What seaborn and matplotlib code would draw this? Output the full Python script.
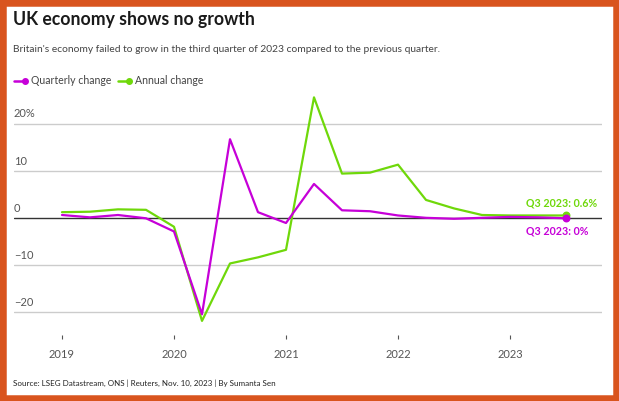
import numpy as np
import pandas as pd
import matplotlib
matplotlib.use("Agg")
import matplotlib.pyplot as plt
from matplotlib.lines import Line2D
from matplotlib.patches import Rectangle
import seaborn as sns

# quarterly GDP change, 2019 Q1 .. 2023 Q3
quarters = ["2019Q1", "2019Q2", "2019Q3", "2019Q4",
            "2020Q1", "2020Q2", "2020Q3", "2020Q4",
            "2021Q1", "2021Q2", "2021Q3", "2021Q4",
            "2022Q1", "2022Q2", "2022Q3", "2022Q4",
            "2023Q1", "2023Q2", "2023Q3"]
quarterly_change = [0.7, 0.2, 0.7, 0.0, -2.8, -20.4, 16.8, 1.3, -1.0, 7.3,
                    1.7, 1.5, 0.6, 0.1, -0.1, 0.1, 0.3, 0.2, 0.0]
annual_change = [1.3, 1.4, 1.9, 1.8, -1.8, -21.8, -9.6, -8.3, -6.7, 25.7,
                 9.5, 9.7, 11.4, 3.9, 2.1, 0.7, 0.6, 0.6, 0.6]
series_names = ["Quarterly change", "Annual change"]
year_labels = ["2019", "2020", "2021", "2022", "2023"]
y_ticks = [-20, -10, 0, 10, 20]
y_tick_labels = ["\u221220", "\u221210", "0", "10", "20%"]

PURPLE = "#c600d8"
GREEN = "#6fd80a"
ORANGE = "#d9541e"
GREY = "#555555"

df = pd.DataFrame({
    "q": list(range(len(quarters))) * 2,
    "value": quarterly_change + annual_change,
    "series": [series_names[0]] * len(quarters) + [series_names[1]] * len(quarters),
})

sns.set_style("white")
plt.rcParams["font.family"] = ["Lato", "DejaVu Sans"]

W, H = 619, 401
fig = plt.figure(figsize=(W / 100, H / 100), dpi=100)

def px(x0, y0, x1, y1):
    return [x0 / W, 1 - y1 / H, (x1 - x0) / W, (y1 - y0) / H]

ax = fig.add_axes(px(14, 95, 602, 335))

# annual first so the quarterly line sits on top
sns.lineplot(data=df, x="q", y="value", hue="series",
             palette={series_names[0]: PURPLE, series_names[1]: GREEN},
             hue_order=[series_names[1], series_names[0]],
             linewidth=1.6, legend=False, ax=ax, zorder=3)

# end points
last = len(quarters) - 1
ax.scatter([last], [annual_change[-1]], s=22, color=GREEN, zorder=4)
ax.scatter([last], [quarterly_change[-1]], s=22, color=PURPLE, zorder=5)

ax.set_xlim(-48 / 28, 540 / 28)
ax.set_ylim(-24.8, 26.2)

for t in y_ticks:
    if t == 0:
        ax.axhline(0, color="#333333", lw=1.0, zorder=2)
    else:
        ax.axhline(t, color="#cccccc", lw=1.0, zorder=1)
for t, lab in zip(y_ticks, y_tick_labels):
    ax.text(-48 / 28, t + 1.0, lab, fontsize=8, color=GREY,
            ha="left", va="bottom")

ax.set_yticks([])
ax.set_xticks([4 * i for i in range(len(year_labels))])
ax.set_xticklabels(year_labels, fontsize=8, color=GREY)
ax.tick_params(axis="x", direction="out", length=3, width=0.8,
               color="#555555", pad=7, bottom=True)
ax.set_xlabel("")
ax.set_ylabel("")
for s in ax.spines.values():
    s.set_visible(False)

ax.text(last + 1.1, annual_change[-1] + 1.4, "Q3 2023: 0.6%", color=GREEN,
        fontsize=7.7, fontweight="bold", ha="right", va="bottom")
ax.text(last + 0.8, quarterly_change[-1] - 1.5, "Q3 2023: 0%", color=PURPLE,
        fontsize=7.7, fontweight="bold", ha="right", va="top")

# titles
fig.text(13 / W, 1 - 19 / H, "UK economy shows no growth", fontsize=12.7,
         fontweight="bold", color="#1a1a1a", ha="left", va="center")
fig.text(13 / W, 1 - 49 / H,
         "Britain's economy failed to grow in the third quarter of 2023 compared to the previous quarter.",
         fontsize=7.4, color="#444444", ha="left", va="center")

# legend
ly = 1 - 81 / H
for x0, col, name in [(14, PURPLE, series_names[0]), (118, GREEN, series_names[1])]:
    fig.add_artist(Line2D([x0 / W, (x0 + 11) / W], [ly, ly], color=col, lw=1.8))
    fig.add_artist(Line2D([(x0 + 11) / W], [ly], color=col, marker="o", markersize=4))
    fig.text((x0 + 17) / W, ly, name, fontsize=7.6, color="#444444",
             ha="left", va="center")

fig.text(13 / W, 1 - 383 / H,
         "Source: LSEG Datastream, ONS | Reuters, Nov. 10, 2023 | By Sumanta Sen",
         fontsize=5.8, color="#222222", ha="left", va="center")

# orange frame
fig.add_artist(Rectangle((0, 0), 1, 1, transform=fig.transFigure, fill=False,
                         edgecolor=ORANGE, linewidth=9, zorder=10))

fig.savefig("out.png", dpi=100, facecolor="white")
